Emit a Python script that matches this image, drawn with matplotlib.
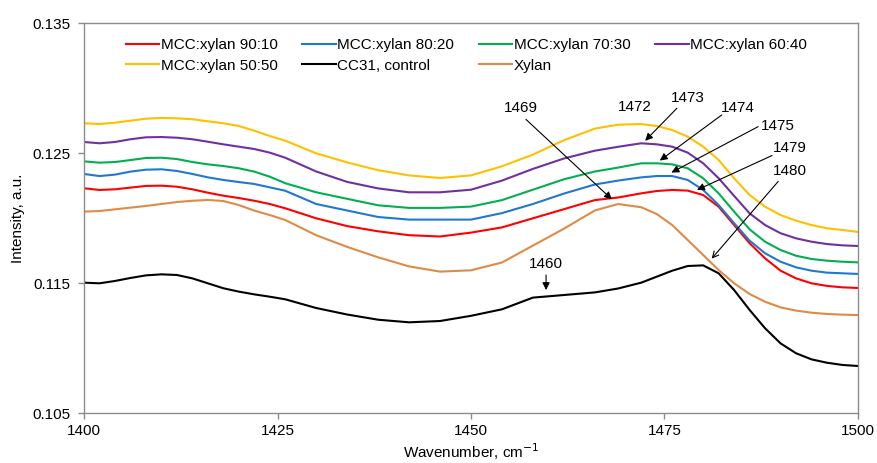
import numpy as np
import matplotlib
matplotlib.use("Agg")
import matplotlib.pyplot as plt

plt.rcParams['font.family'] = ['Liberation Sans', 'DejaVu Sans']

# ------------------------
# Data
# ------------------------
wavenumber = [1400, 1402, 1404, 1406, 1408, 1410, 1412, 1414, 1416, 1418, 1420, 1422, 1424,
              1426, 1430, 1434, 1438, 1442, 1446, 1450, 1454, 1458, 1462, 1466, 1469,
              1472, 1474, 1476, 1478, 1480, 1482, 1484, 1486, 1488, 1490, 1492, 1494,
              1496, 1498, 1500]

mcc_90_10 = [.12231, .12218, .12223, .12236, .12249, .12251, .12243, .12223, .12197, .12174,
             .12156, .12135, .1211, .12077, .1200, .1194, .1190, .1187, .1186, .1189, .1193,
             .1200, .1207, .1214, .1216, .12192, .1221, .12218, .12213, .12179, .12089,
             .11948, .11808, .11692, .11597, .11538, .1150, .1148, .11469, .11464]
mcc_80_20 = [.12341, .12325, .12336, .12359, .12374, .12377, .12364, .12341, .12315, .12295,
             .12279, .12264, .12238, .12212, .1211, .1206, .1201, .1199, .1199, .1199, .1204,
             .1211, .1219, .1226, .1229, .12315, .12325, .12325, .12295, .12218, .12102,
             .11962, .11828, .11731, .11666, .11623, .11597, .11582, .11577, .11572]
mcc_70_30 = [.12438, .12428, .12433, .12448, .12464, .12466, .12456, .12433, .12415, .12402,
             .12385, .12359, .1232, .1227, .1220, .1215, .1210, .1208, .1208, .1209, .1214,
             .1222, .1230, .1236, .1239, .12423, .12423, .12415, .12385, .12308, .12192,
             .12051, .11915, .1182, .11756, .11712, .11687, .11674, .11666, .11661]
mcc_60_40 = [.12587, .12577, .12587, .12608, .12623, .12625, .1262, .12608, .12589, .12569,
             .12551, .12533, .12505, .12466, .1236, .1228, .1223, .1220, .1220, .1222, .1229,
             .1238, .1246, .1252, .1255, .12577, .12569, .12551, .12505, .12423, .12308,
             .12172, .12038, .11948, .11885, .11846, .1182, .11802, .11792, .11787]
mcc_50_50 = [.12731, .12725, .12735, .12751, .12766, .12772, .12769, .12762, .12746, .12731,
             .1271, .12674, .12633, .12597, .1250, .1243, .1237, .1233, .1231, .1233, .1240,
             .1249, .1260, .1269, .1272, .12725, .1271, .12679, .12628, .12551, .12448,
             .12308, .12179, .12089, .12025, .11982, .11948, .11923, .1191, .11895]
cc31_control = [.11505, .1150, .11518, .11541, .11561, .11569, .11564, .11538, .1150, .11462,
                .11436, .11415, .11397, .11377, .1131, .1126, .1122, .1120, .1121, .1125,
                .1130, .1139, .1141, .1143, .1146, .11505, .11551, .11597, .11633, .11638,
                .11577, .11448, .11295, .11154, .11038, .10962, .10915, .10889, .10872, .10864]
xylan = [.12051, .12056, .12069, .12082, .12095, .1211, .12125, .12135, .12141, .12133,
         .12102, .12059, .12025, .11987, .1187, .1178, .1170, .1163, .1159, .1160, .1166,
         .1179, .1192, .1206, .1211, .12085, .12033, .11948, .11833, .11718, .11602,
         .1150, .11418, .11358, .11315, .1129, .11274, .11264, .11259, .11256]

series_labels = ["MCC:xylan 90:10", "MCC:xylan 80:20", "MCC:xylan 70:30",
                 "MCC:xylan 60:40", "MCC:xylan 50:50", "CC31, control", "Xylan"]
series_values = [mcc_90_10, mcc_80_20, mcc_70_30, mcc_60_40, mcc_50_50,
                 cc31_control, xylan]
series_colors = ["#FF0000", "#1F78D1", "#00B050", "#7030A0", "#FFC000",
                 "#000000", "#E08A45"]

# peak labels: text, text position, arrow tail, arrow head, arrow style
peak_labels = ["1469", "1472", "1473", "1474", "1475", "1479", "1480", "1460"]
peak_text_xy = [(1456.5, .12846), (1471.2, .12858), (1478.0, .12923), (1484.5, .12846),
                (1489.6, .12710), (1491.2, .12544), (1491.2, .12367), (1459.7, .11648)]
peak_tail_xy = [(1457.1, .12761), None, (1476.6, .12846), (1482.4, .12795),
                (1487.1, .12705), (1488.9, .12483), (1489.7, .12284), (1459.7, .11564)]
peak_head_xy = [(1468.2, .12146), None, (1472.5, .12596), (1474.4, .12444),
                (1475.9, .12352), (1479.2, .12218), (1481.1, .11690), (1459.7, .11448)]
peak_arrow = ["-|>", None, "-|>", "-|>", "-|>", "-|>", "->", "-|>"]

# ------------------------
# Plot
# ------------------------
fig = plt.figure(figsize=(8.77, 4.63), dpi=100)
ax = fig.add_axes([0.0958, 0.1073, 0.8825, 0.8424])

handles = []
for lab, vals, col in zip(series_labels, series_values, series_colors):
    h, = ax.plot(wavenumber, vals, color=col, lw=1.5, label=lab)
    handles.append(h)

for lab, txy, tail, head, style in zip(peak_labels, peak_text_xy, peak_tail_xy,
                                       peak_head_xy, peak_arrow):
    ax.text(txy[0], txy[1], lab, fontsize=11, ha="center", va="center")
    if style is not None:
        ax.annotate("", xy=head, xytext=tail,
                    arrowprops=dict(arrowstyle=style, color="black", lw=0.8,
                                    mutation_scale=11, shrinkA=0, shrinkB=0))

ax.set_xlim(1400, 1500)
ax.set_ylim(0.105, 0.135)
ax.set_xticks([1400, 1425, 1450, 1475, 1500])
ax.set_yticks([0.105, 0.115, 0.125, 0.135])
ax.set_yticklabels(["0.105", "0.115", "0.125", "0.135"])

for sp in ax.spines.values():
    sp.set_color("#8C8C8C")
    sp.set_linewidth(1.0)
ax.tick_params(axis="both", colors="#8C8C8C", labelcolor="black", labelsize=11,
               length=4, width=1.0)
ax.tick_params(axis="y", pad=6)
ax.tick_params(axis="x", pad=4)

ax.set_xlabel("Wavenumber, cm$^{-1}$", fontsize=11, labelpad=2)
ax.set_ylabel("Intensity, a.u.", fontsize=11, labelpad=5)

# legend: 4 per row, filled row by row
order = [0, 4, 1, 5, 2, 6, 3]
ax.legend([handles[i] for i in order], [series_labels[i] for i in order],
          ncol=4, loc="upper left", bbox_to_anchor=(0.04, 0.99), frameon=False,
          fontsize=11, handlelength=2.2, handletextpad=0.1, columnspacing=1.6,
          labelspacing=0.45, borderpad=0.2)

fig.savefig("out.png", dpi=100)
